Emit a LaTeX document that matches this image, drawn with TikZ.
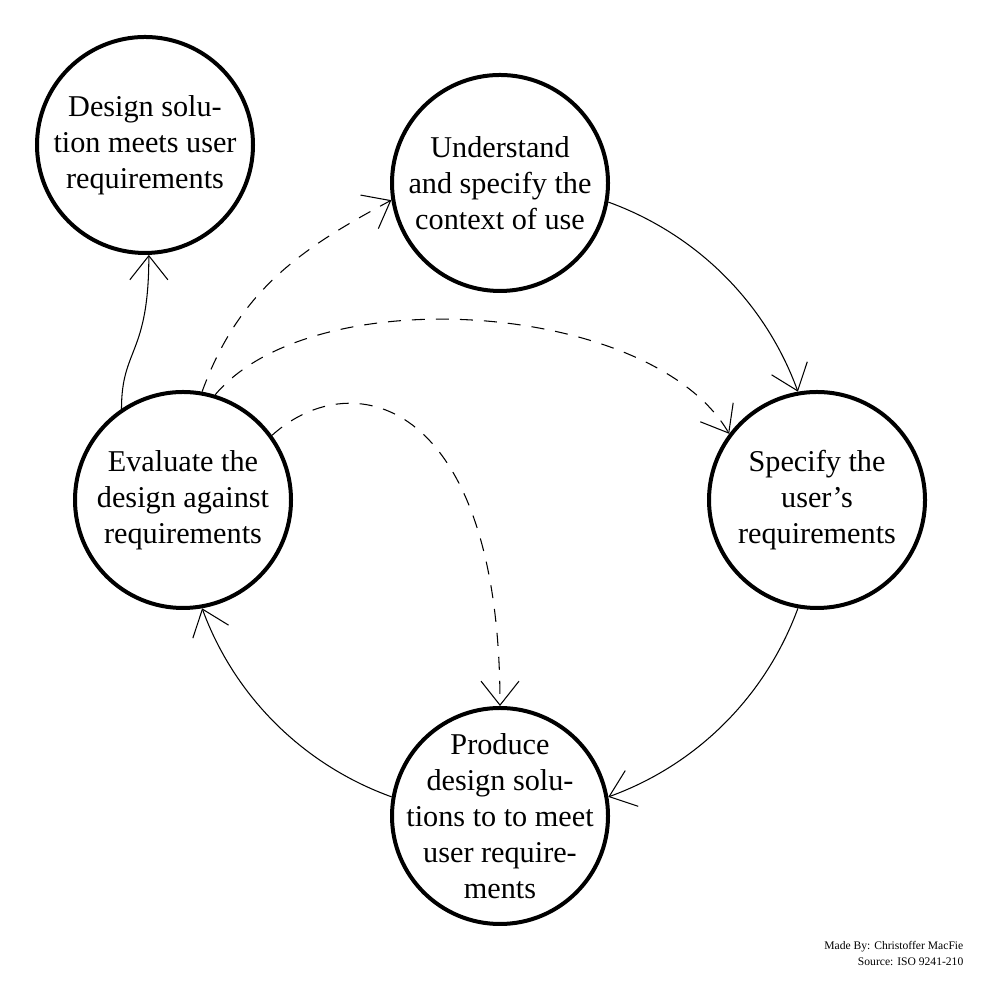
\documentclass[tikz,border=0pt]{standalone}
\usepackage{fontspec}
\setmainfont{Liberation Serif}
\usetikzlibrary{arrows.meta,positioning}
\begin{document}
\begin{tikzpicture}[stage/.style={circle,draw,line width=0.4mm,minimum size=2.16cm,inner sep=0pt},
	caption/.style={align=center,inner sep=0pt,font=\fontsize{8.6}{10.2}\selectfont},
	flow/.style={line width=0.3pt,-{Straight Barb[length=2.4mm,width=3.8mm]}},
	hint/.style={flow,dash pattern=on 1.3mm off 1.1mm},
	arcbend/.style={bend left=25,looseness=0.9}]

	\useasboundingbox (0,0) rectangle (10,10);
	\node[stage] (design) at (1.45,8.55) {};
	\node[caption] (design text) at (design) {Design solu-\\tion meets user\\requirements};
	\node[stage] (understand) at (5,8.17) {};
	\node[caption] (understand text) at (understand) {Understand\\and specify the\\context of use};
	\node[stage] (evaluate) at (1.83,5) {};
	\node[caption] (evaluate text) at (evaluate) {Evaluate the\\design against\\requirements};
	\node[stage] (specify) [right of=evaluate, node distance=6.34cm] {};
	\node[caption] (specify text) at (specify) {Specify the\\user’s\\requirements};
	\node[stage] (produce) [below of=understand, node distance=6.33cm] {};
	\node[caption] (produce text) at (produce) {Produce\\design solu-\\tions to to meet\\user require-\\ments};

	\path[flow] (understand.-10) edge [arcbend] (specify.100);
	\path[flow] (specify.-100) edge [arcbend] (produce.10);
	\path[flow] (produce.170) edge [arcbend] (evaluate.-80);
	\path[flow] (evaluate.124) edge [out=90, in=-90, out looseness=1, in looseness=1.65] (design.-88);

	\path[hint] (evaluate.80) edge [out=70, in=208] (understand.189);
	\path[hint] (evaluate.73) edge [out=50, in=120, looseness=0.76] (specify.143);
	\path[hint] (evaluate.36) edge [out=42, in=90, out looseness=0.8, in looseness=2.2] (produce.north);

	\node[align=right, anchor=east, inner sep=0pt, font=\fontsize{3.3}{4.8}\selectfont] (credit) at (9.64,0.465) {Made By: Christoffer MacFie\\Source: ISO 9241-210};

\end{tikzpicture}
\end{document}
